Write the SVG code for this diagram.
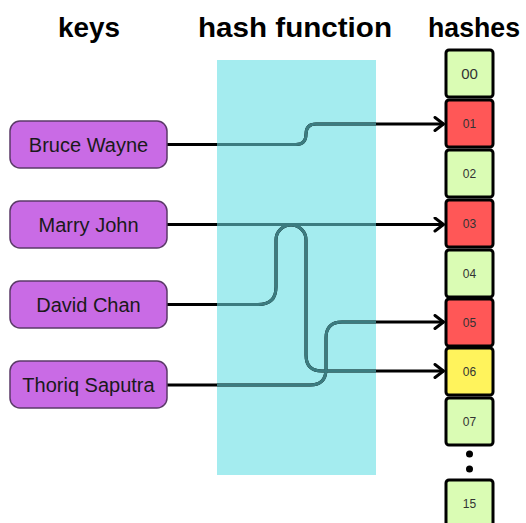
<svg xmlns="http://www.w3.org/2000/svg" width="526" height="523" viewBox="0 0 526 523">
<defs>
<style>
.title{font-family:"Liberation Sans",Arial,sans-serif;font-weight:bold;font-size:28px;fill:#000;text-anchor:middle}
.key rect{fill:#C96BE5;stroke:#5b3a68;stroke-width:1.5}
.key text{font-family:"Liberation Sans",Arial,sans-serif;font-size:20px;fill:#1a1a1a;text-anchor:middle}
.hash rect{stroke:#000;stroke-width:3}
.hash text{font-family:"Liberation Sans",Arial,sans-serif;font-size:12px;fill:#333;text-anchor:middle}
.g rect{fill:#DAFCB4}
.r rect{fill:#FF5757}
.y rect{fill:#FFF35C}
.wire{fill:none;stroke:#000;stroke-width:3}
.teal{fill:none;stroke:#3B7C80;stroke-width:3}
</style>
<marker id="arr" viewBox="0 0 12 16" refX="11" refY="8" markerWidth="12" markerHeight="16" markerUnits="userSpaceOnUse" orient="auto">
<path d="M2,1.5 L10.5,8 L2,14.5" fill="none" stroke="#000" stroke-width="3" stroke-linecap="round" stroke-linejoin="round"/>
</marker>
<clipPath id="hf"><rect x="217" y="60" width="159" height="415"/></clipPath>
</defs>
<rect width="526" height="523" fill="#fff"/>
<text class="title" x="89" y="37" textLength="62" lengthAdjust="spacingAndGlyphs">keys</text>
<text class="title" x="295" y="37" textLength="194" lengthAdjust="spacingAndGlyphs">hash function</text>
<text class="title" x="474" y="37" textLength="92" lengthAdjust="spacingAndGlyphs">hashes</text>
<g id="hash-function"><rect x="217" y="60" width="159" height="415" fill="#A4ECEF"/></g>
<g id="connectors">
<path id="c-bruce" class="wire" d="M167,144.5 H296 Q306,144.5 306,134 Q306,124 316,124 H444" marker-end="url(#arr)"/>
<path id="c-marry" class="wire" d="M167,224.5 H444" marker-end="url(#arr)"/>
<path id="c-david" class="wire" d="M167,304.5 H258 Q276,304.5 276,287 V240 A15,15 0 0 1 306,240 V355 Q306,371 322,371 H444" marker-end="url(#arr)"/>
<path id="c-thoriq" class="wire" d="M167,385 H310 Q326,385 326,369 V338 Q326,322 342,322 H444" marker-end="url(#arr)"/>
<g clip-path="url(#hf)">
<path class="teal" d="M167,144.5 H296 Q306,144.5 306,134 Q306,124 316,124 H444"/>
<path class="teal" d="M167,224.5 H444"/>
<path class="teal" d="M167,304.5 H258 Q276,304.5 276,287 V240 A15,15 0 0 1 306,240 V355 Q306,371 322,371 H444"/>
<path class="teal" d="M167,385 H310 Q326,385 326,369 V338 Q326,322 342,322 H444"/>
</g>
</g>
<g id="key-bruce" class="key"><rect x="10" y="121" width="157" height="47" rx="10"/><text x="88.5" y="152">Bruce Wayne</text></g>
<g id="key-marry" class="key"><rect x="10" y="201" width="157" height="47" rx="10"/><text x="88.5" y="232">Marry John</text></g>
<g id="key-david" class="key"><rect x="10" y="281" width="157" height="47" rx="10"/><text x="88.5" y="312">David Chan</text></g>
<g id="key-thoriq" class="key"><rect x="10" y="361" width="157" height="47" rx="10"/><text x="88.5" y="392">Thoriq Saputra</text></g>
<g id="h00" class="hash g"><rect x="446" y="50" width="47" height="47" rx="3"/><text x="469.5" y="79" style="font-size:15px">00</text></g>
<g id="h01" class="hash r"><rect x="446" y="100" width="47" height="47" rx="3"/><text x="469.5" y="128">01</text></g>
<g id="h02" class="hash g"><rect x="446" y="150" width="47" height="47" rx="3"/><text x="469.5" y="178">02</text></g>
<g id="h03" class="hash r"><rect x="446" y="200" width="47" height="47" rx="3"/><text x="469.5" y="228">03</text></g>
<g id="h04" class="hash g"><rect x="446" y="250" width="47" height="47" rx="3"/><text x="469.5" y="278">04</text></g>
<g id="h05" class="hash r"><rect x="446" y="299" width="47" height="47" rx="3"/><text x="469.5" y="327">05</text></g>
<g id="h06" class="hash y"><rect x="446" y="348" width="47" height="47" rx="3"/><text x="469.5" y="376">06</text></g>
<g id="h07" class="hash g"><rect x="446" y="398" width="47" height="47" rx="3"/><text x="469.5" y="426">07</text></g>
<g id="ellipsis"><circle cx="469.5" cy="454" r="3.5" fill="#000"/><circle cx="469.5" cy="469" r="3.5" fill="#000"/></g>
<g id="h15" class="hash g"><rect x="446" y="480" width="47" height="47" rx="3"/><text x="469.5" y="508">15</text></g>
</svg>
